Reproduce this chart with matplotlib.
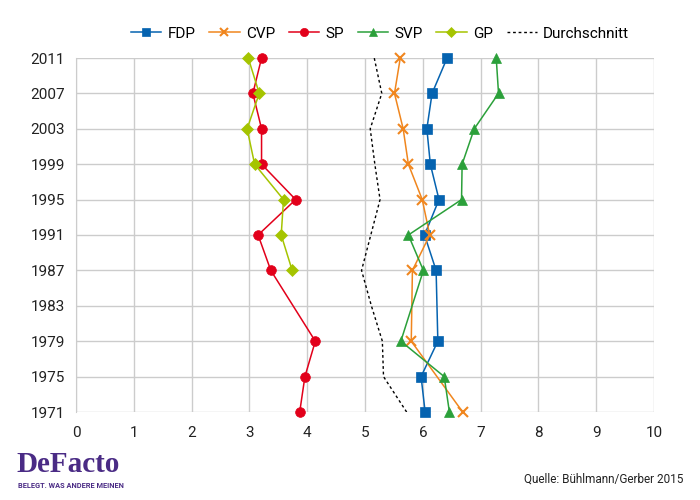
import numpy as np
import matplotlib.pyplot as plt

years = ['1971', '1975', '1979', '1983', '1987', '1991', '1995', '1999', '2003', '2007', '2011']

# None = kein Wert
fdp = [6.04, 5.97, 6.26, None, 6.23, 6.03, 6.28, 6.13, 6.07, 6.16, 6.42]
cvp = [6.69, None, 5.80, None, 5.82, 6.12, 5.99, 5.75, 5.66, 5.51, 5.61]
sp = [3.87, 3.96, 4.14, None, 3.37, 3.15, 3.80, 3.21, 3.21, 3.06, 3.21]
svp = [6.46, 6.37, 5.62, None, 6.01, 5.75, 6.67, 6.68, 6.89, 7.31, 7.27]
gp = [None, None, None, None, 3.74, 3.55, 3.59, 3.09, 2.96, 3.17, 2.98]
avg = [5.72, 5.32, 5.30, 5.11, 4.94, 5.10, 5.26, 5.17, 5.09, 5.29, 5.16]

series = [
    ('FDP', fdp, '#0563b0', 's', 7),
    ('CVP', cvp, '#f0861e', 'x', 7),
    ('SP', sp, '#e2001a', 'o', 7),
    ('SVP', svp, '#2ba03a', '^', 7),
    ('GP', gp, '#a5c400', 'D', 6.5),
]

plt.rcParams['font.family'] = ['Roboto', 'DejaVu Sans']

fig = plt.figure(figsize=(7, 5), dpi=100)
ax = fig.add_axes([0.1086, 0.176, 0.8257, 0.708])

ypos = np.arange(len(years))
for name, vals, col, mk, ms in series:
    ys = [y for y, v in zip(ypos, vals) if v is not None]
    xs = [v for v in vals if v is not None]
    ax.plot(xs, ys, color=col, marker=mk, markersize=ms, lw=1.1, clip_on=False,
            markeredgewidth=1.5 if mk == 'x' else 0.5, label=name, zorder=3)

ax.plot(avg, ypos, color='black', ls=(0, (2, 2)), lw=1, label='Durchschnitt', zorder=3)

ax.set_xlim(0, 10)
ax.set_ylim(0, len(years) - 1)
ax.set_xticks(range(11))
ax.set_yticks(ypos)
ax.set_yticklabels(years)
ax.grid(True, color='#cccccc', lw=1)
ax.set_axisbelow(True)
for s in ['top', 'right', 'bottom']:
    ax.spines[s].set_visible(False)
ax.spines['left'].set_color('#cccccc')
ax.tick_params(length=0, labelsize=11, colors='#222222')
ax.tick_params(axis='x', pad=10)
ax.tick_params(axis='y', pad=8)

ax.legend(loc='lower center', bbox_to_anchor=(0.526, 1.01), ncol=6, frameon=False,
          fontsize=11, handlelength=2.0, columnspacing=0.9, handletextpad=0.4,
          markerscale=0.85)

fig.text(0.024, 0.056, 'DeFacto', family='Liberation Serif', fontsize=21,
         color='#4a2b85', fontweight='bold')
fig.text(0.026, 0.024, 'BELEGT. WAS ANDERE MEINEN', fontsize=5.3, color='#4a2b85',
         fontweight='bold')
fig.text(0.976, 0.035, 'Quelle: Bühlmann/Gerber 2015', fontsize=8.5, color='#222222', ha='right')

fig.savefig('out.png')
